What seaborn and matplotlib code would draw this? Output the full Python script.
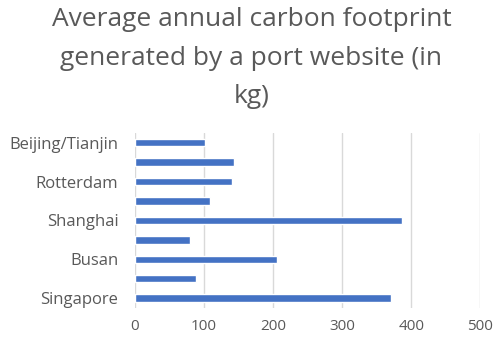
import matplotlib
matplotlib.use("Agg")
import matplotlib.pyplot as plt
import seaborn as sns
import pandas as pd

# ports top to bottom; Excel only prints every other label
ports = ["Beijing/Tianjin", "Hong Kong", "Rotterdam", "Ningbo", "Shanghai",
         "Qingdao", "Busan", "Guangzhou", "Singapore"]
footprint_kg = [102, 143, 140, 109, 386, 79, 206, 89, 370]
shown_labels = ["Beijing/Tianjin", "", "Rotterdam", "", "Shanghai", "", "Busan", "", "Singapore"]
x_ticks = [0, 100, 200, 300, 400, 500]

df = pd.DataFrame({"port": ports, "kg": footprint_kg})

sns.set_theme(style="white")
plt.rcParams["font.family"] = ["Open Sans", "DejaVu Sans"]

grey = "#595959"
fig = plt.figure(figsize=(4.98, 3.44), dpi=100)
ax = fig.add_axes([0.271, 0.105, 0.6935, 0.5085])

sns.barplot(data=df, x="kg", y="port", order=ports, color="#4472C4",
            width=0.38, saturation=1, ax=ax)

ax.set_xlim(0, 500)
ax.set_ylim(8.5, -0.5)
ax.set_xticks(x_ticks)
ax.set_xticklabels([str(t) for t in x_ticks], color=grey, fontsize=11)
ax.set_yticks(range(len(ports)))
ax.set_yticklabels(shown_labels, color=grey, fontsize=12)
ax.tick_params(axis="y", length=0, pad=12)
ax.tick_params(axis="x", length=0, pad=8)
ax.set_xlabel("")
ax.set_ylabel("")
ax.grid(axis="x", color="#d9d9d9", linewidth=1.0)
ax.set_axisbelow(True)
for s in ax.spines.values():
    s.set_visible(False)

fig.text(0.505, 0.98, "Average annual carbon footprint\ngenerated by a port website (in\nkg)",
         ha="center", va="top", fontsize=19, color=grey, linespacing=1.72)

fig.savefig("out.png", dpi=100)
